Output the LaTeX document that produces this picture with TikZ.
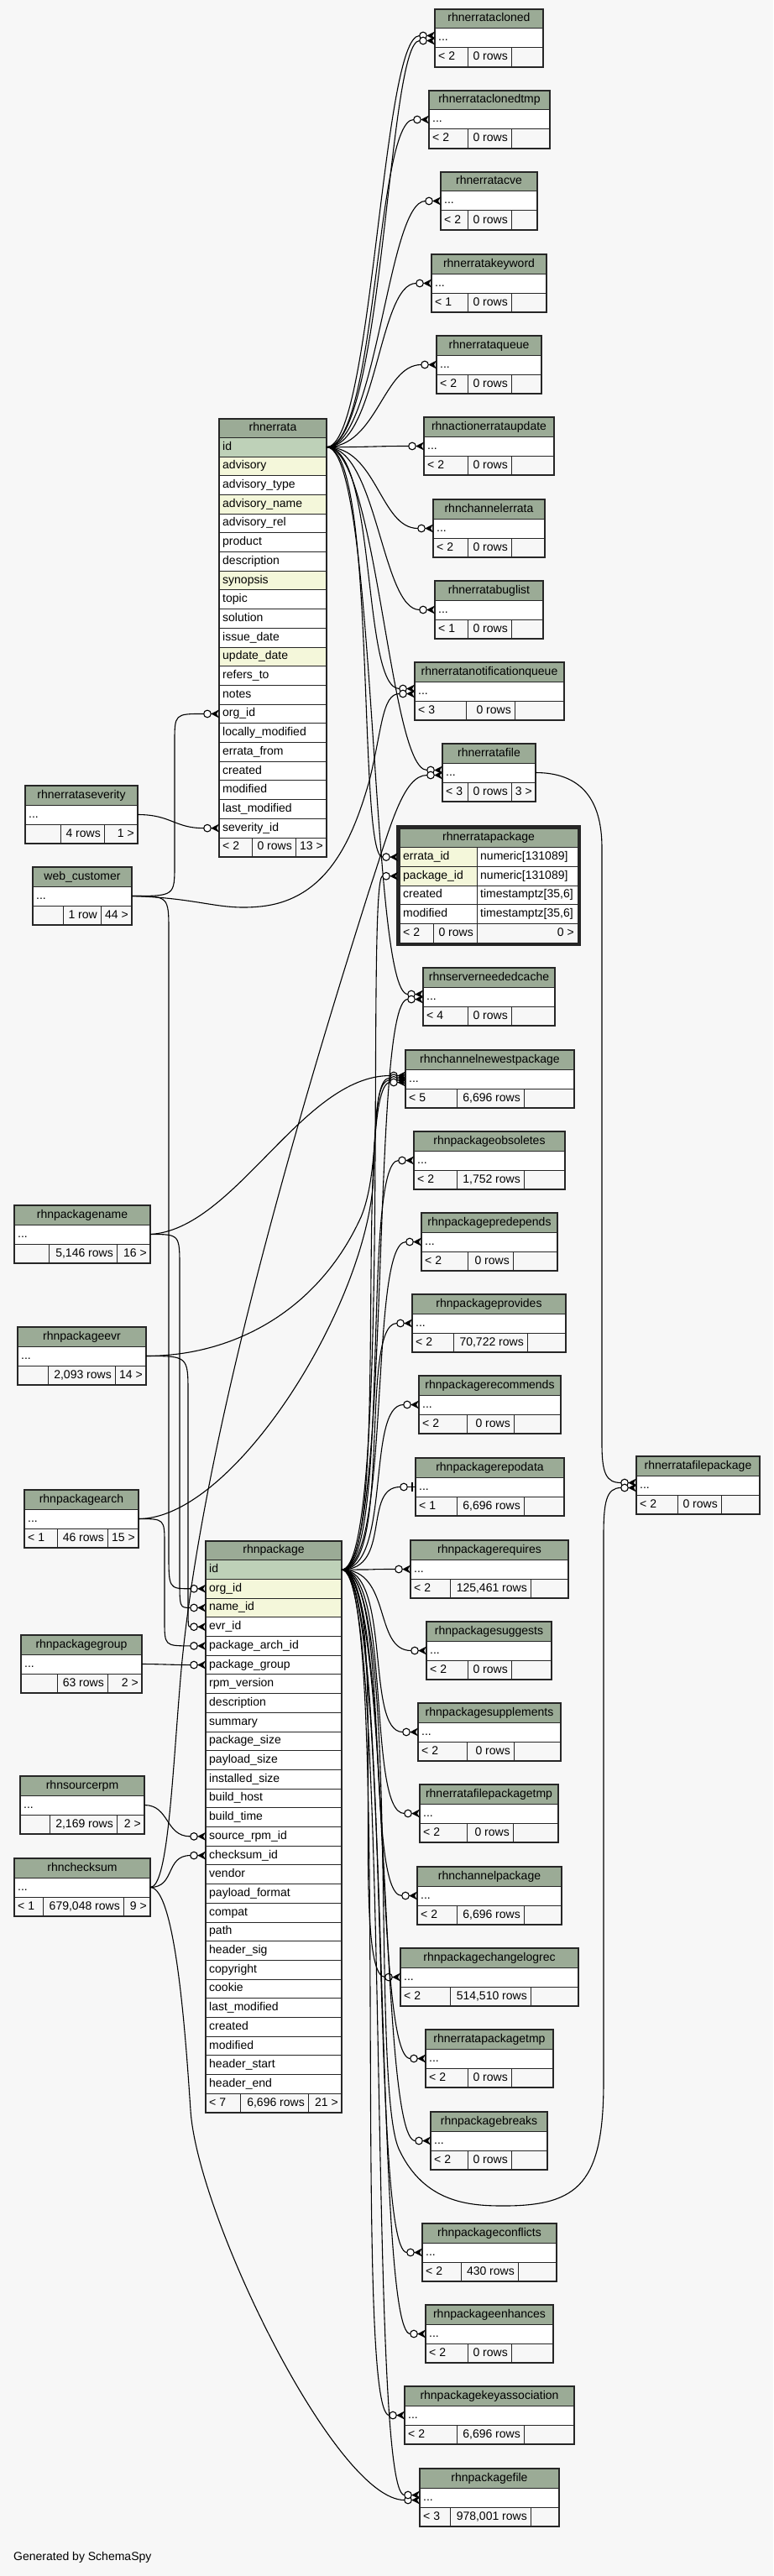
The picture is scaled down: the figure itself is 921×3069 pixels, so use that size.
\documentclass[tikz,border=0pt]{standalone}
\usepackage{fontspec}
\setmainfont{Liberation Sans}
\definecolor{hdr}{HTML}{9BAB96}
\definecolor{pkc}{HTML}{BED1B8}
\definecolor{idx}{HTML}{F4F7DA}
\definecolor{ftr}{HTML}{F7F7F7}
\definecolor{bgc}{HTML}{F7F7F7}
\tikzset{
  cellb/.style={draw=black!85, line width=1},
  outerb/.style={draw=black!85, line width=1.8},
  txt/.style={font=\fontsize{14}{16}\selectfont, inner sep=0pt, text height=10pt, text depth=3pt},
  fk/.style={draw=black, line width=1.1},
  crow/.pic={\draw[fk,fill=white] (-14,0) circle[radius=4.3];
             \fill[black] (-9.7,0) -- (0,-5) -- (-3,0) -- (0,5) -- cycle;},
  tee/.pic={\draw[fk,fill=white] (-14,0) circle[radius=4.3];
            \draw[fk] (-9.7,0) -- (0,0);
            \draw[fk,line width=1.6] (-4,-5.5) -- (-4,5.5);}
}
\newcommand\mytbl[7]{%
  \path[cellb, fill=hdr] (#2,#4) rectangle (#3,#4+23);
  \path[cellb, fill=white] (#2,#4+23) rectangle (#3,#4+46);
  \path[cellb, fill=ftr] (#2,#4+46) rectangle (#6,#4+69);
  \path[cellb, fill=ftr] (#6,#4+46) rectangle (#7,#4+69);
  \path[cellb, fill=ftr] (#7,#4+46) rectangle (#3,#4+69);
  \path[outerb] (#2,#4) rectangle (#3,#4+69);
  \node[txt] (#1) at ({(#2+#3)/2},#4+11.5) {#5};
  \node[txt, anchor=west] (#1-dots) at (#2+4,#4+34.5) {...};
  \coordinate (#1-in) at (#2,#4+34.5);
  \coordinate (#1-out) at (#3,#4+34.5);
  \coordinate (#1-fl) at (#2+4,#4+57.5);
  \coordinate (#1-fm) at (#7-4,#4+57.5);
  \coordinate (#1-fr) at (#3-4,#4+57.5);
}
\newcommand\myftr[4]{%
  \node[txt, anchor=west] (#1-L) at (#1-fl) {#2};
  \node[txt, anchor=east] (#1-M) at (#1-fm) {#3};
  \node[txt, anchor=east] (#1-R) at (#1-fr) {#4};
}
\newcommand\fkline[5]{%
  \draw[fk] (#1) .. controls +(#4,0) and +(-#5,0) .. ([shift={(-18.3,#3)}]#2);
  \pic at ([shift={(0,#3)}]#2) {crow};
}
\newcommand\vfkline[7]{%
  \draw[fk] (#1) .. controls (#3,#4) .. (#3,#5) -- (#3,#6) .. controls (#3,#7) .. ([shift={(-18.3,0)}]#2);
  \pic at (#2) {crow};
}
\begin{document}
\begin{tikzpicture}[x=1pt,y=-1pt]
\useasboundingbox (0,0) rectangle (921,3069);
\fill[bgc] (0,0) rectangle (921,3069);

% ---------- collapsed tables (right column) ----------
\mytbl{cloned}{518}{647}{11}{rhnerratacloned}{557}{609} \myftr{cloned}{< 2}{0 rows}{}
\mytbl{clonedtmp}{511}{655}{108}{rhnerrataclonedtmp}{557}{609} \myftr{clonedtmp}{< 2}{0 rows}{}
\mytbl{cve}{525}{640}{205}{rhnerratacve}{557}{609} \myftr{cve}{< 2}{0 rows}{}
\mytbl{keyword}{514}{651}{303}{rhnerratakeyword}{557}{609} \myftr{keyword}{< 1}{0 rows}{}
\mytbl{queue}{520}{645}{400}{rhnerrataqueue}{557}{609} \myftr{queue}{< 2}{0 rows}{}
\mytbl{aeu}{505}{660}{497}{rhnactionerrataupdate}{557}{609} \myftr{aeu}{< 2}{0 rows}{}
\mytbl{che}{516}{649}{595}{rhnchannelerrata}{557}{609} \myftr{che}{< 2}{0 rows}{}
\mytbl{bug}{518}{647}{692}{rhnerratabuglist}{557}{609} \myftr{bug}{< 1}{0 rows}{}
\mytbl{notif}{494}{672}{789}{rhnerratanotificationqueue}{555}{613} \myftr{notif}{< 3}{0 rows}{}
\mytbl{erratafile}{527}{638}{886}{rhnerratafile}{557}{609} \myftr{erratafile}{< 3}{0 rows}{3 >}
\mytbl{snc}{504}{661}{1153}{rhnserverneededcache}{557}{609} \myftr{snc}{< 4}{0 rows}{}
\mytbl{cnp}{483}{684}{1251}{rhnchannelnewestpackage}{544}{624} \myftr{cnp}{< 5}{6,696 rows}{}
\mytbl{obs}{493}{673}{1348}{rhnpackageobsoletes}{544}{624} \myftr{obs}{< 2}{1,752 rows}{}
\mytbl{pred}{502}{664}{1445}{rhnpackagepredepends}{557}{611} \myftr{pred}{< 2}{0 rows}{}
\mytbl{prov}{491}{674}{1542}{rhnpackageprovides}{540}{628} \myftr{prov}{< 2}{70,722 rows}{}
\mytbl{rec}{499}{668}{1639}{rhnpackagerecommends}{556}{612} \myftr{rec}{< 2}{0 rows}{}
\mytbl{repodata}{495}{672}{1737}{rhnpackagerepodata}{544}{624} \myftr{repodata}{< 1}{6,696 rows}{}
\mytbl{req}{489}{677}{1835}{rhnpackagerequires}{536}{632} \myftr{req}{< 2}{125,461 rows}{}
\mytbl{sugg}{508}{657}{1932}{rhnpackagesuggests}{557}{609} \myftr{sugg}{< 2}{0 rows}{}
\mytbl{supp}{498}{668}{2029}{rhnpackagesupplements}{556}{612} \myftr{supp}{< 2}{0 rows}{}
\mytbl{fptmp}{500}{665}{2126}{rhnerratafilepackagetmp}{556}{611} \myftr{fptmp}{< 2}{0 rows}{}
\mytbl{chpkg}{497}{669}{2224}{rhnchannelpackage}{544}{624} \myftr{chpkg}{< 2}{6,696 rows}{}
\mytbl{clog}{477}{689}{2321}{rhnpackagechangelogrec}{536}{632} \myftr{clog}{< 2}{514,510 rows}{}
\mytbl{eptmp}{507}{659}{2418}{rhnerratapackagetmp}{557}{609} \myftr{eptmp}{< 2}{0 rows}{}
\mytbl{breaks}{513}{652}{2516}{rhnpackagebreaks}{557}{609} \myftr{breaks}{< 2}{0 rows}{}
\mytbl{confl}{503}{663}{2649}{rhnpackageconflicts}{549}{617} \myftr{confl}{< 2}{430 rows}{}
\mytbl{enh}{507}{659}{2746}{rhnpackageenhances}{557}{609} \myftr{enh}{< 2}{0 rows}{}
\mytbl{keyas}{482}{684}{2843}{rhnpackagekeyassociation}{544}{624} \myftr{keyas}{< 2}{6,696 rows}{}
\mytbl{pfile}{500}{666}{2941}{rhnpackagefile}{536}{632} \myftr{pfile}{< 3}{978,001 rows}{}
\mytbl{efp}{758}{905}{1735}{rhnerratafilepackage}{807}{859} \myftr{efp}{< 2}{0 rows}{}

% ---------- collapsed tables (left column) ----------
\mytbl{sev}{30}{164}{936}{rhnerrataseverity}{72}{124} \myftr{sev}{}{4 rows}{1 >}
\mytbl{wc}{39}{157}{1033}{web\_customer}{75}{120} \myftr{wc}{}{1 row}{44 >}
\mytbl{pname}{17}{179}{1436}{rhnpackagename}{58}{139} \myftr{pname}{}{5,146 rows}{16 >}
\mytbl{evr}{21}{174}{1581}{rhnpackageevr}{57}{137} \myftr{evr}{}{2,093 rows}{14 >}
\mytbl{arch}{29}{165}{1775}{rhnpackagearch}{68}{128} \myftr{arch}{< 1}{46 rows}{15 >}
\mytbl{grp}{25}{169}{1948}{rhnpackagegroup}{68}{128} \myftr{grp}{}{63 rows}{2 >}
\mytbl{srpm}{24}{172}{2116}{rhnsourcerpm}{59}{139} \myftr{srpm}{}{2,169 rows}{2 >}
\mytbl{chk}{17}{179}{2214}{rhnchecksum}{51}{147} \myftr{chk}{< 1}{679,048 rows}{9 >}

% ---------- rhnerrata ----------
\path[cellb, fill=hdr] (261,498.6) rectangle (389,521.3);
\node[txt] (errata) at (325,509.95) {rhnerrata};
\foreach \t/\c [count=\i] in {id/pkc, advisory/idx, advisory\_type/white, advisory\_name/idx,
  advisory\_rel/white, product/white, description/white, synopsis/idx, topic/white,
  solution/white, issue\_date/white, update\_date/idx, refers\_to/white, notes/white,
  org\_id/white, locally\_modified/white, errata\_from/white, created/white,
  modified/white, last\_modified/white, severity\_id/white} {
  \path[cellb, fill=\c] (261,{498.6+22.7*\i}) rectangle (389,{498.6+22.7*(\i+1)});
  \node[txt, anchor=west] (errata-r\i) at (265,{498.6+22.7*(\i+0.5)}) {\t};
}
\path[cellb, fill=ftr] (261,998) rectangle (300,1020.7);
\path[cellb, fill=ftr] (300,998) rectangle (352,1020.7);
\path[cellb, fill=ftr] (352,998) rectangle (389,1020.7);
\path[outerb] (261,498.6) rectangle (389,1020.7);
\node[txt, anchor=west] (errata-fl) at (265,1009.35) {< 2};
\node[txt, anchor=east] (errata-fm) at (348,1009.35) {0 rows};
\node[txt, anchor=east] (errata-fr) at (385,1009.35) {13 >};
\coordinate (errata-id) at (389,532.65);
\coordinate (errata-org) at (261,850.45);
\coordinate (errata-sev) at (261,986.65);

% ---------- rhnpackage ----------
\path[cellb, fill=hdr] (245,1836) rectangle (407,1858.7);
\node[txt] (pkg) at (326,1847.35) {rhnpackage};
\foreach \t/\c [count=\i] in {id/pkc, org\_id/idx, name\_id/idx, evr\_id/white,
  package\_arch\_id/white, package\_group/white, rpm\_version/white, description/white,
  summary/white, package\_size/white, payload\_size/white, installed\_size/white,
  build\_host/white, build\_time/white, source\_rpm\_id/white, checksum\_id/white,
  vendor/white, payload\_format/white, compat/white, path/white, header\_sig/white,
  copyright/white, cookie/white, last\_modified/white, created/white, modified/white,
  header\_start/white, header\_end/white} {
  \path[cellb, fill=\c] (245,{1836+22.7*\i}) rectangle (407,{1836+22.7*(\i+1)});
  \node[txt, anchor=west] (pkg-r\i) at (249,{1836+22.7*(\i+0.5)}) {\t};
}
\path[cellb, fill=ftr] (245,2494.3) rectangle (286.5,2517);
\path[cellb, fill=ftr] (286.5,2494.3) rectangle (367,2517);
\path[cellb, fill=ftr] (367,2494.3) rectangle (407,2517);
\path[outerb] (245,1836) rectangle (407,2517);
\node[txt, anchor=west] (pkg-fl) at (249,2505.65) {< 7};
\node[txt, anchor=east] (pkg-fm) at (363,2505.65) {6,696 rows};
\node[txt, anchor=east] (pkg-fr) at (403,2505.65) {21 >};
\coordinate (pkg-id) at (407,1870.05);
\coordinate (pkg-org) at (245,1892.75);
\coordinate (pkg-name) at (245,1915.45);
\coordinate (pkg-evr) at (245,1938.15);
\coordinate (pkg-arch) at (245,1960.85);
\coordinate (pkg-group) at (245,1983.55);
\coordinate (pkg-src) at (245,2187.85);
\coordinate (pkg-chk) at (245,2210.55);

% ---------- rhnerratapackage (focus table) ----------
\fill[black!85] (472,983) rectangle (692,1127);
\path[cellb, fill=hdr] (476,987) rectangle (688,1009.7);
\node[txt] (ep) at (582,998.35) {rhnerratapackage};
\path[cellb, fill=idx] (476,1009.7) rectangle (568,1032.4);
\path[cellb, fill=white] (568,1009.7) rectangle (688,1032.4);
\path[cellb, fill=idx] (476,1032.4) rectangle (568,1055.1);
\path[cellb, fill=white] (568,1032.4) rectangle (688,1055.1);
\path[cellb, fill=white] (476,1055.1) rectangle (568,1077.8);
\path[cellb, fill=white] (568,1055.1) rectangle (688,1077.8);
\path[cellb, fill=white] (476,1077.8) rectangle (568,1100.5);
\path[cellb, fill=white] (568,1077.8) rectangle (688,1100.5);
\path[cellb, fill=ftr] (476,1100.5) rectangle (516,1123.2);
\path[cellb, fill=ftr] (516,1100.5) rectangle (568,1123.2);
\path[cellb, fill=ftr] (568,1100.5) rectangle (688,1123.2);
\node[txt, anchor=west] (ep-c1) at (480,1021.05) {errata\_id};
\node[txt, anchor=west] (ep-t1) at (572,1021.05) {numeric[131089]};
\node[txt, anchor=west] (ep-c2) at (480,1043.75) {package\_id};
\node[txt, anchor=west] (ep-t2) at (572,1043.75) {numeric[131089]};
\node[txt, anchor=west] (ep-c3) at (480,1066.45) {created};
\node[txt, anchor=west] (ep-t3) at (572,1066.45) {timestamptz[35,6]};
\node[txt, anchor=west] (ep-c4) at (480,1089.15) {modified};
\node[txt, anchor=west] (ep-t4) at (572,1089.15) {timestamptz[35,6]};
\node[txt, anchor=west] (ep-fl) at (480,1111.85) {< 2};
\node[txt, anchor=east] (ep-fm) at (564,1111.85) {0 rows};
\node[txt, anchor=east] (ep-fr) at (684,1111.85) {0 >};
\coordinate (ep-errata) at (474,1021.05);
\coordinate (ep-pkg) at (474,1043.75);

% ---------- relationships from rhnerrata.id ----------
\fkline{errata-id}{cloned-in}{-3}{55}{45}
\fkline{errata-id}{cloned-in}{3}{68}{38}
\fkline{errata-id}{clonedtmp-in}{0}{60}{45}
\fkline{errata-id}{cve-in}{0}{60}{45}
\fkline{errata-id}{keyword-in}{0}{60}{45}
\fkline{errata-id}{queue-in}{0}{60}{45}
\fkline{errata-id}{aeu-in}{0}{60}{45}
\fkline{errata-id}{che-in}{0}{60}{45}
\fkline{errata-id}{bug-in}{0}{60}{45}
\fkline{errata-id}{notif-in}{-3}{60}{45}
\fkline{errata-id}{erratafile-in}{-3}{60}{45}
\fkline{errata-id}{ep-errata}{0}{60}{30}
\fkline{errata-id}{snc-in}{-3}{60}{45}

% ---------- parents of rhnerrata ----------
\fkline{sev-out}{errata-sev}{0}{40}{35}
\vfkline{wc-out}{errata-org}{208}{1067.5}{1030}{885}{850.45}
\draw[fk] (wc-out) .. controls (240,1070) and (260,1085) .. (310,1080)
  .. controls (390,1072) and (420,1000) .. (440,930)
  .. controls (455,870) and (455,826.5) .. ([shift={(-18.3,3)}]notif-in);
\pic at ([shift={(0,3)}]notif-in) {crow};

% ---------- parents of rhnpackage ----------
\vfkline{wc-out}{pkg-org}{201}{1067.5}{1110}{1850}{1892.75}
\vfkline{pname-out}{pkg-name}{214}{1470.5}{1510}{1880}{1915.45}
\vfkline{evr-out}{pkg-evr}{224}{1615.5}{1660}{1905}{1938.15}
\vfkline{arch-out}{pkg-arch}{196}{1809.5}{1840}{1930}{1960.85}
\fkline{grp-out}{pkg-group}{0}{20}{20}
\fkline{srpm-out}{pkg-src}{0}{30}{30}
\fkline{chk-out}{pkg-chk}{0}{30}{30}

% ---------- long edges from left tables ----------
\draw[fk] (pname-out) .. controls (280,1465) and (360,1281.5) .. ([shift={(-18.3,-4)}]cnp-in);
\pic at ([shift={(0,-4)}]cnp-in) {crow};
\draw[fk] (evr-out) .. controls (280,1615.5) and (380,1560) .. (430,1450)
  .. controls (455,1390) and (440,1284.2) .. ([shift={(-18.3,-1.3)}]cnp-in);
\pic at ([shift={(0,-1.3)}]cnp-in) {crow};
\draw[fk] (arch-out) .. controls (280,1809.5) and (440,1550) .. (445,1400)
  .. controls (447,1320) and (450,1286.8) .. ([shift={(-18.3,1.3)}]cnp-in);
\pic at ([shift={(0,1.3)}]cnp-in) {crow};
\draw[fk] (chk-out) .. controls (200,2248.5) and (205,2120) .. (215,2000)
  .. controls (240,1700) and (380,1250) .. (440,1060)
  .. controls (465,985) and (480,923.5) .. ([shift={(-18.3,3)}]erratafile-in);
\pic at ([shift={(0,3)}]erratafile-in) {crow};
\draw[fk] (chk-out) .. controls (210,2248.5) and (222,2440) .. (227,2514)
  .. controls (235,2640) and (400,2978.5) .. ([shift={(-18.3,3)}]pfile-in);
\pic at ([shift={(0,3)}]pfile-in) {crow};

% ---------- relationships from rhnpackage.id ----------
\fkline{pkg-id}{ep-pkg}{0}{60}{20}
\fkline{pkg-id}{snc-in}{3}{60}{45}
\fkline{pkg-id}{cnp-in}{4}{60}{45}
\fkline{pkg-id}{obs-in}{0}{60}{45}
\fkline{pkg-id}{pred-in}{0}{60}{45}
\fkline{pkg-id}{prov-in}{0}{60}{45}
\fkline{pkg-id}{rec-in}{0}{60}{45}
\draw[fk] (pkg-id) .. controls +(60,0) and +(-45,0) .. ([shift={(-18.3,0)}]repodata-in);
\pic at (repodata-in) {tee};
\fkline{pkg-id}{req-in}{0}{60}{45}
\fkline{pkg-id}{sugg-in}{0}{60}{45}
\fkline{pkg-id}{supp-in}{0}{60}{45}
\fkline{pkg-id}{fptmp-in}{0}{60}{45}
\fkline{pkg-id}{chpkg-in}{0}{60}{45}
\fkline{pkg-id}{clog-in}{0}{60}{45}
\fkline{pkg-id}{eptmp-in}{0}{60}{45}
\fkline{pkg-id}{breaks-in}{0}{60}{45}
\fkline{pkg-id}{confl-in}{0}{60}{45}
\fkline{pkg-id}{enh-in}{0}{60}{45}
\fkline{pkg-id}{keyas-in}{0}{60}{45}
\fkline{pkg-id}{pfile-in}{-3}{60}{45}

% ---------- rhnerratafilepackage ----------
\draw[fk] (erratafile-out) .. controls (690,920.5) and (717,950) .. (717,1010)
  -- (717,1720) .. controls (717,1755) and (722,1766.5) .. ([shift={(-18.3,-3)}]efp-in);
\pic at ([shift={(0,-3)}]efp-in) {crow};
\draw[fk] (pkg-id) .. controls (480,1870) and (440,2480) .. (475,2560)
  .. controls (505,2625) and (560,2628) .. (600,2628)
  .. controls (690,2628) and (719,2600) .. (719,2480)
  -- (719,1830) .. controls (719,1790) and (722,1772.5) .. ([shift={(-18.3,3)}]efp-in);
\pic at ([shift={(0,3)}]efp-in) {crow};

\node[txt, anchor=base west] (gen) at (16,3050) {Generated by SchemaSpy};
\end{tikzpicture}
\end{document}
